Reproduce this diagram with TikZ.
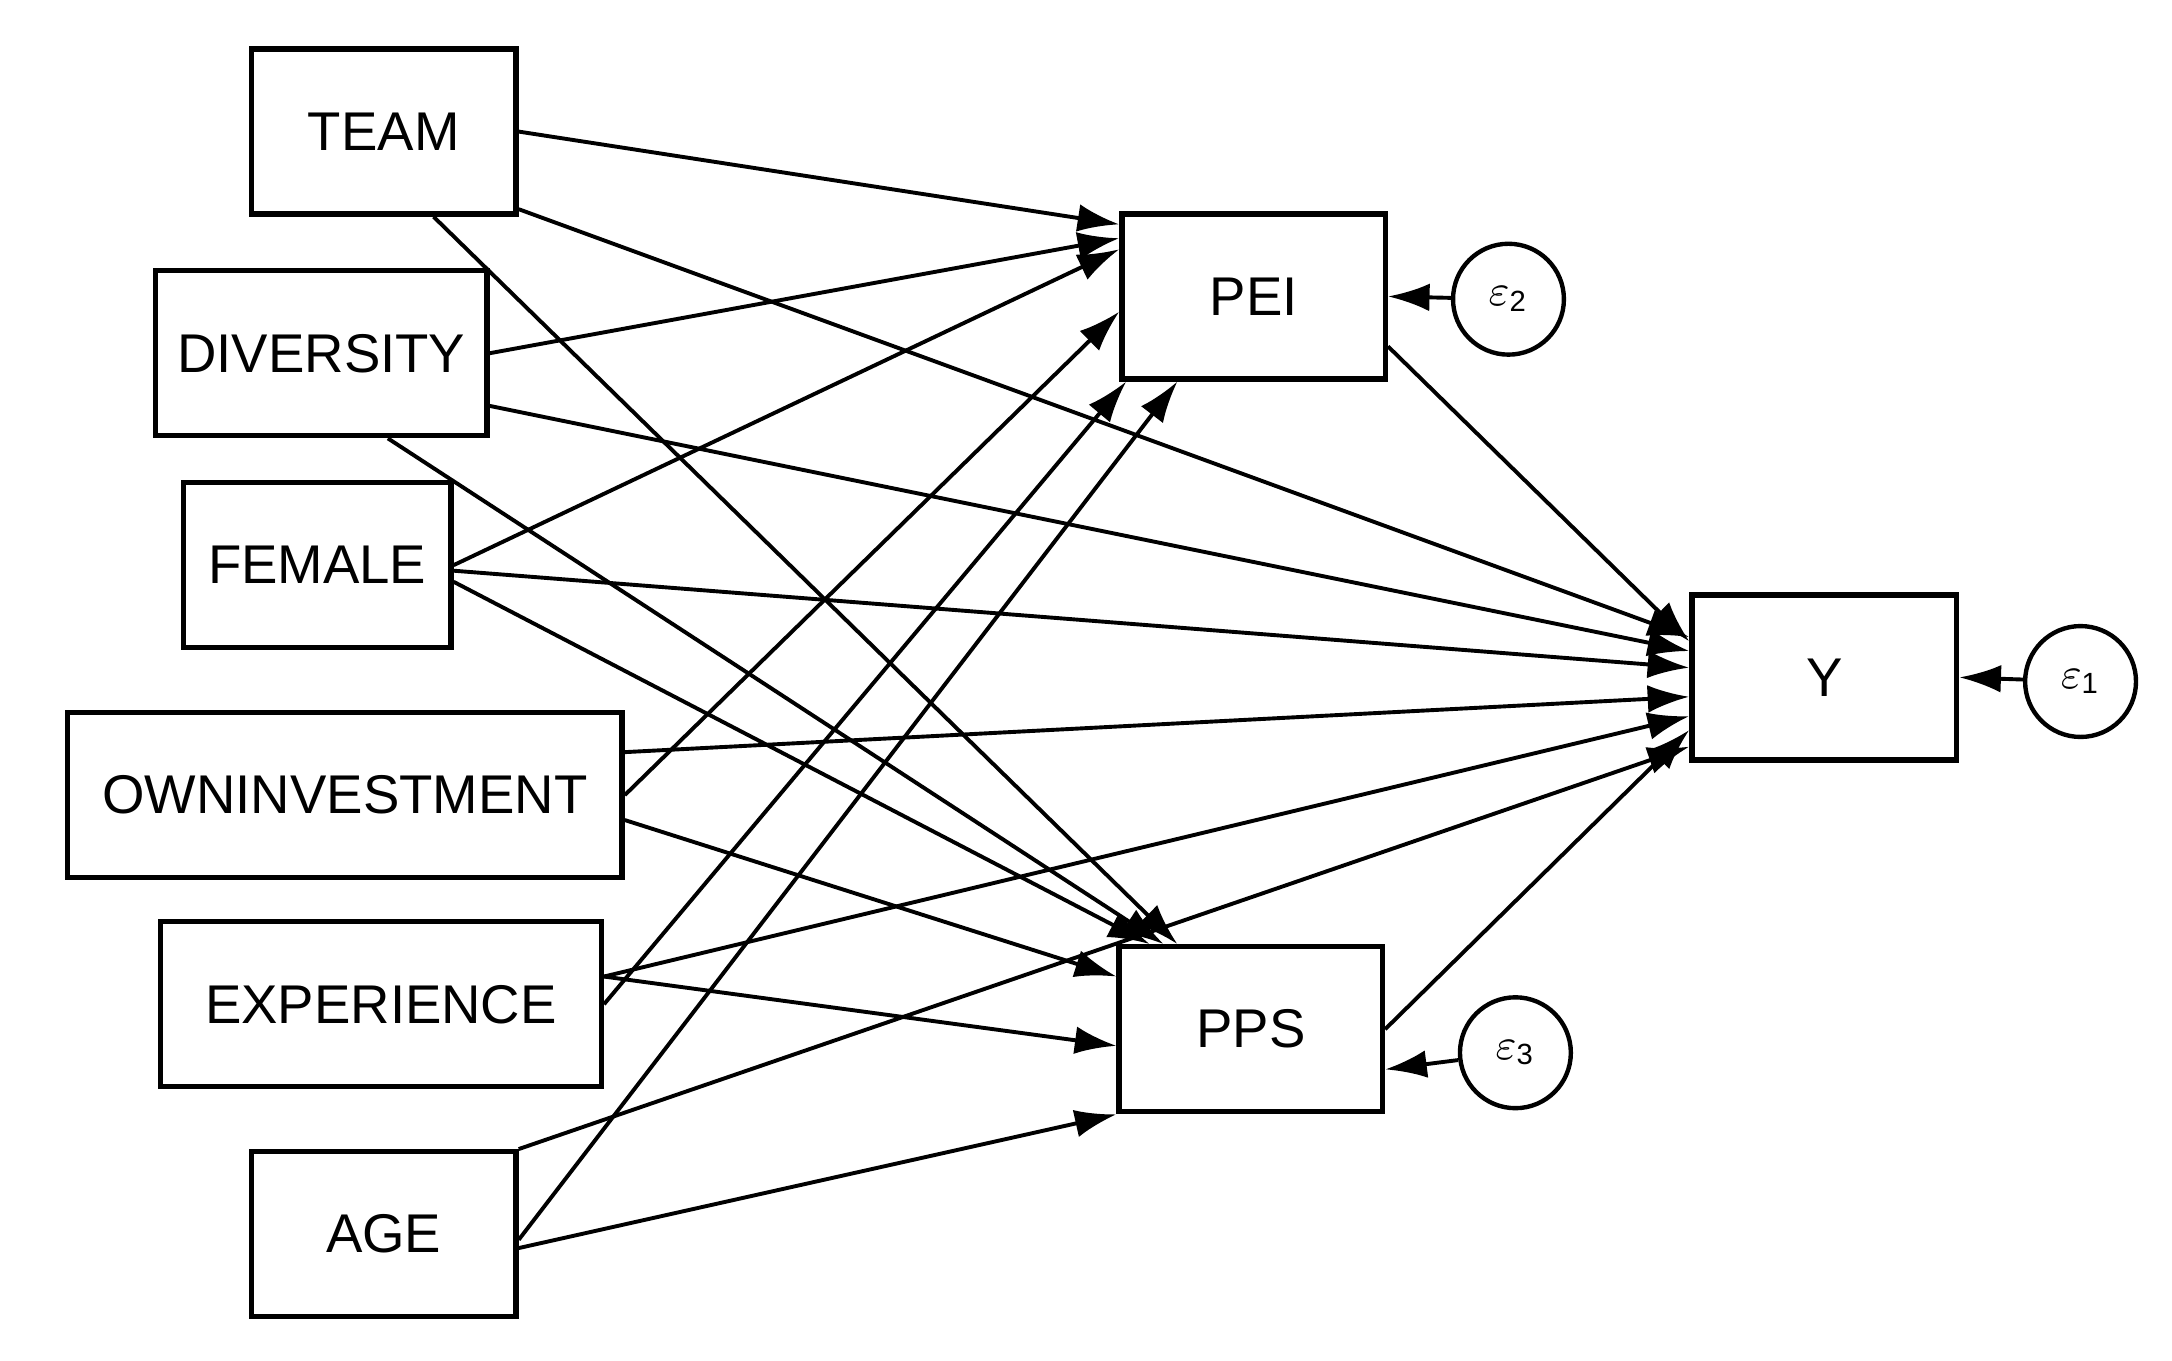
\documentclass[tikz,border=0pt]{standalone}
\usepackage{fontspec}
\setmainfont{Liberation Sans}
\usetikzlibrary{arrows.meta}
\begin{document}
\begin{tikzpicture}[x=0.01cm,y=-0.01cm,
 box/.style={draw,line width=1.1pt,minimum height=1.19cm,inner sep=0pt,font=\fontsize{11.2}{13}\selectfont},
 err/.style={draw,circle,line width=0.9pt,minimum size=0.8cm,inner sep=0pt,font=\fontsize{9}{10}\selectfont},
 arr/.style={line width=0.8pt,-{Latex[length=0.3cm,width=0.2cm]}}]
\useasboundingbox (0,0) rectangle (1568,982);
\node[box,minimum width=1.91cm] (team) at (277,95) {TEAM};
\node[box,minimum width=2.39cm] (div) at (232,255) {DIVERSITY};
\node[box,minimum width=1.93cm] (fem) at (229,408) {FEMALE};
\node[box,minimum width=4.0cm] (own) at (249,574) {OWNINVESTMENT};
\node[box,minimum width=3.18cm] (exp) at (275,725) {EXPERIENCE};
\node[box,minimum width=1.91cm] (age) at (277,891) {AGE};
\node[box,minimum width=1.9cm] (pei) at (905,214) {PEI};
\node[box,minimum width=1.9cm] (pps) at (903,743) {PPS};
\node[box,minimum width=1.91cm] (y) at (1317,489) {Y};
\node[err] (e2) at (1089,216) {$\varepsilon$\textsubscript{2}};
\node[err] (e1) at (1502,492) {$\varepsilon$\textsubscript{1}};
\node[err] (e3) at (1094,760) {$\varepsilon$\textsubscript{3}};
% TEAM
\draw[arr] (team.east) -- ([yshift=0.52cm]pei.west);
\draw[arr] ([yshift=-0.56cm]team.east) -- ([yshift=0.29cm]y.west);
\draw[arr] ([xshift=0.36cm]team.south) -- ([xshift=-0.53cm]pps.north);
% DIVERSITY
\draw[arr] (div.east) -- ([yshift=0.42cm]pei.west);
\draw[arr] ([yshift=-0.38cm]div.east) -- ([yshift=0.19cm]y.west);
\draw[arr] ([xshift=0.48cm]div.south) -- ([xshift=-0.63cm]pps.north);
% FEMALE
\draw[arr] (fem.east) -- ([yshift=0.34cm]pei.west);
\draw[arr] ([yshift=-0.04cm]fem.east) -- ([yshift=0.07cm]y.west);
\draw[arr] ([yshift=-0.12cm]fem.east) -- ([xshift=-0.73cm]pps.north);
% OWNINVESTMENT
\draw[arr] (own.east) -- ([yshift=-0.11cm]pei.west);
\draw[arr] ([yshift=0.31cm]own.east) -- ([yshift=-0.14cm]y.west);
\draw[arr] ([yshift=-0.18cm]own.east) -- ([yshift=0.38cm]pps.west);
% EXPERIENCE
\draw[arr] (exp.east) -- ([xshift=0.05cm]pei.south west);
\draw[arr] ([yshift=0.2cm]exp.east) -- ([yshift=-0.28cm]y.west);
\draw[arr] ([yshift=0.2cm]exp.east) -- ([yshift=-0.12cm]pps.west);
% AGE
\draw[arr] ([yshift=-0.04cm]age.east) -- ([xshift=-0.55cm]pei.south);
\draw[arr] ([yshift=-0.1cm]age.east) -- (pps.south west);
\draw[arr] (age.north east) -- ([yshift=-0.5cm]y.west);
% mediators
\draw[arr] ([yshift=-0.36cm]pei.east) -- ([yshift=0.26cm]y.west);
\draw[arr] (pps.east) -- ([yshift=-0.38cm]y.west);
% errors
\draw[arr] (e2) -- (pei.east);
\draw[arr] (e1) -- (y.east);
\draw[arr] (e3) -- ([yshift=-0.29cm]pps.east);
\end{tikzpicture}
\end{document}
